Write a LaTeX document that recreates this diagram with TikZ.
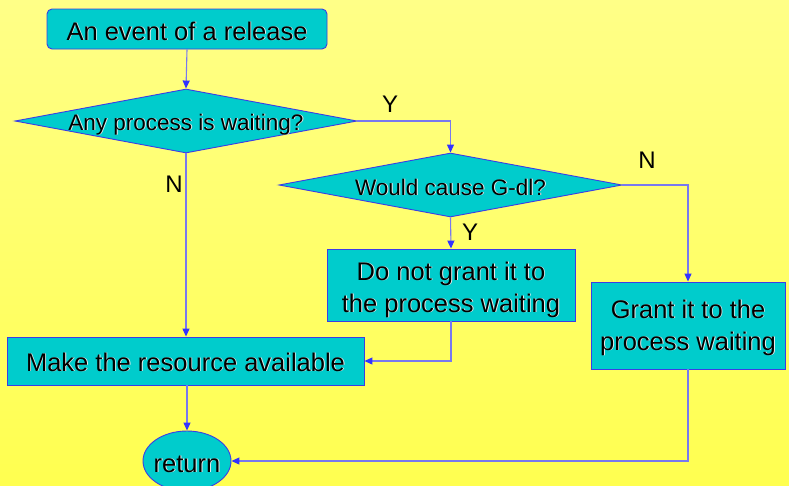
\documentclass[tikz,border=0pt]{standalone}
\usepackage{fontspec}
\setmainfont{Liberation Sans}
\usetikzlibrary{shapes.geometric,arrows.meta,shadings}

\definecolor{boxfill}{RGB}{0,204,204}
\definecolor{boxline}{RGB}{60,60,230}
\definecolor{linkline}{RGB}{120,120,240}
\definecolor{tipblue}{RGB}{50,50,255}
\definecolor{bgtop}{RGB}{255,255,135}
\definecolor{bgmid}{RGB}{255,255,210}
\definecolor{bgbot}{RGB}{255,255,80}

% text with a faint light drop shadow
\newcommand{\shtext}[1]{\makebox[0pt][l]{\hspace{0.9pt}\raisebox{-0.9pt}{\color{white!85!gray}#1}}#1}

\tikzset{
  flowbox/.style={draw=boxline, line width=0.9pt, fill=boxfill, inner sep=0pt,
    align=center, font=\fontsize{25.5}{32}\selectfont},
  decide/.style={diamond, draw=boxline, line width=0.9pt, fill=boxfill, inner sep=0pt,
    font=\fontsize{22.5}{28}\selectfont},
  % baseline sits #1 below the node centre
  drop/.style={text depth=6pt, text height={2*#1+6pt}},
  conn/.style={draw=linkline, line width=1.1pt,
    -{Triangle[length=8pt,width=7pt,color=tipblue]}},
  yn/.style={font=\fontsize{24}{28}\selectfont, inner sep=0pt}
}

\begin{document}
\begin{tikzpicture}[x=1pt,y=-1pt]
  \useasboundingbox (0,0) rectangle (789,485);
  \clip (0,0) rectangle (789,485);
  \shade[top color=bgtop, middle color=bgmid, bottom color=bgbot] (0,0) rectangle (789,485);

  % blocks
  \node[flowbox, rounded corners=5pt, minimum width=280pt, minimum height=40pt, drop=11pt]
    (ev) at (187,29) {\shtext{An event of a release}};
  \node[decide, minimum width=342pt, minimum height=64pt, drop=9pt]
    (q1) at (186,121) {\makebox[0pt]{\shtext{Any process is waiting?}}};
  \node[decide, minimum width=343pt, minimum height=64pt, drop=10pt]
    (q2) at (450.5,185) {\makebox[0pt]{\shtext{Would cause G-dl?}}};
  \node[flowbox, minimum width=248pt, minimum height=72pt, drop=27pt]
    (deny) at (451,285) {\shtext{Do not grant it to}\\\shtext{the process waiting}};
  \node[flowbox, minimum width=194pt, minimum height=87pt, drop=24.5pt]
    (grant) at (688,325.5) {\shtext{Grant it to the}\\\shtext{process waiting}};
  \node[flowbox, minimum width=357pt, minimum height=48pt, drop=10pt]
    (make) at (185.5,361) {\shtext{Make the resource available}};
  \node[flowbox, ellipse, minimum width=88pt, minimum height=60pt, drop=11pt]
    (ret) at (187,461) {\makebox[0pt]{\shtext{return}}};

  % branch labels
  \node[yn] (y1) at (390,104) {Y};
  \node[yn] (n1) at (174,184) {N};
  \node[yn] (n2) at (647,160) {N};
  \node[yn] (y2) at (470,232) {Y};

  % connectors
  \draw[conn] (ev.south) -- (q1.north);
  \draw[conn] (q1.east) -| (q2.north);
  \draw[conn] (q2.east) -| (grant.north);
  \draw[conn] (q2.south) -- (deny.north);
  \draw[conn] (q1.south) -- (q1.south |- make.north);
  \draw[conn] (deny.south) |- (make.east);
  \draw[conn] (ret.north |- make.south) -- (ret.north);
  \draw[conn] (grant.south) |- (ret.east);
\end{tikzpicture}
\end{document}
